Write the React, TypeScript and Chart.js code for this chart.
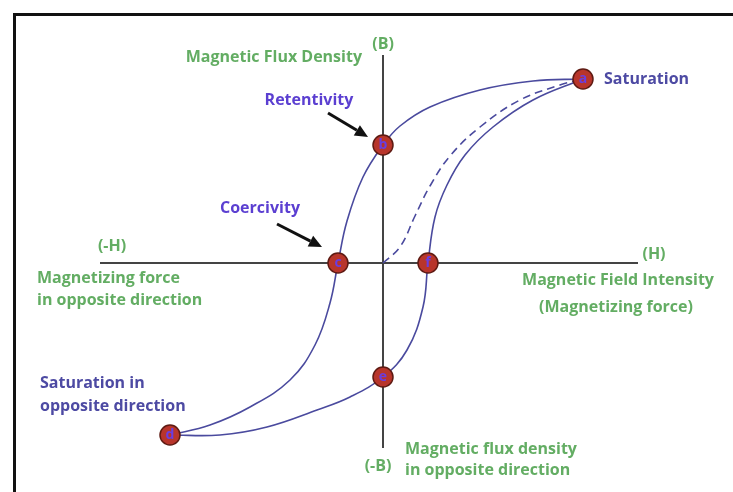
import React, { useEffect, useRef } from "react";
import { Chart, registerables } from "chart.js";

Chart.register(...registerables);

// Hysteresis loop, H (magnetizing force) vs B (flux density), arbitrary units
const pointLabels = ["a", "b", "c", "d", "e", "f"];
const pointH = [10.0, 0, -2.25, -10.65, 0, 2.25];
const pointB = [9.2, 5.9, 0, -8.6, -5.7, 0];

// descending branch a -> b -> c -> d
const upperH = [10.0, 7.5, 4.85, 2.35, 0.85, 0, -1.0, -1.8, -2.25, -2.65, -3.4, -4.65, -6.65, -8.65, -10.65];
const upperB = [9.2, 9.1, 8.65, 7.8, 6.85, 5.9, 4.3, 2.1, 0, -2.0, -4.1, -5.85, -7.2, -8.1, -8.6];

// ascending branch d -> e -> f -> a
const lowerH = [-10.65, -8.15, -5.8, -3.3, -1.65, 0, 1.2, 2.0, 2.25, 2.6, 3.2, 4.1, 5.5, 7.5, 10.0];
const lowerB = [-8.6, -8.6, -8.2, -7.35, -6.7, -5.7, -4.35, -2.2, 0, 2.3, 3.9, 5.4, 6.8, 8.15, 9.2];

// initial magnetization curve (dashed) 0 -> a
const initH = [0, 0.85, 1.6, 2.35, 3.35, 4.85, 6.85, 8.85, 10.0];
const initB = [0, 0.8, 2.35, 3.85, 5.35, 6.8, 8.15, 8.9, 9.2];

// axis extents
const hAxisH = [-14.15, 12.75];
const bAxisB = [10.4, -9.25];

const H_MIN = -19.15;
const H_MAX = 17.5;
const B_MIN = -11.45;
const B_MAX = 13.15;

const GREEN = "#63ad63";
const BLUE = "#5b3fd1";
const NAVY = "#4d4aa3";
const CURVE = "#4a4a9e";

type Ann = { text: string; h: number; b: number; align: CanvasTextAlign; color: string };
const annotations: Ann[] = [
  { text: "(B)", h: 0, b: 10.95, align: "center", color: GREEN },
  { text: "Magnetic Flux Density", h: -1.05, b: 10.3, align: "right", color: GREEN },
  { text: "Retentivity", h: -3.7, b: 8.15, align: "center", color: BLUE },
  { text: "Coercivity", h: -6.15, b: 2.75, align: "center", color: BLUE },
  { text: "(-H)", h: -13.55, b: 0.85, align: "center", color: GREEN },
  { text: "Magnetizing force", h: -17.3, b: -0.75, align: "left", color: GREEN },
  { text: "in opposite direction", h: -17.3, b: -1.85, align: "left", color: GREEN },
  { text: "(H)", h: 13.55, b: 0.45, align: "center", color: GREEN },
  { text: "Magnetic Field Intensity", h: 11.75, b: -0.85, align: "center", color: GREEN },
  { text: "(Magnetizing force)", h: 11.65, b: -2.2, align: "center", color: GREEN },
  { text: "Saturation", h: 11.05, b: 9.2, align: "left", color: NAVY },
  { text: "Saturation in", h: -17.15, b: -6.0, align: "left", color: NAVY },
  { text: "opposite direction", h: -17.15, b: -7.15, align: "left", color: NAVY },
  { text: "(-B)", h: -0.25, b: -10.15, align: "center", color: GREEN },
  { text: "Magnetic flux density", h: 1.1, b: -9.3, align: "left", color: GREEN },
  { text: "in opposite direction", h: 1.1, b: -10.35, align: "left", color: GREEN },
];

// arrows pointing at markers (index into pointLabels), pixel offsets from the marker
const arrows = [
  { target: 1, tail: [-55, -32], tip: [-15, -8] },
  { target: 2, tail: [-61, -39], tip: [-16, -16] },
];

const zip = (xs: number[], ys: number[]) => xs.map((x, i) => ({ x, y: ys[i] }));

const decorPlugin = {
  id: "decor",
  beforeDraw(chart: any) {
    const ctx = chart.ctx;
    ctx.save();
    ctx.fillStyle = "#ffffff";
    ctx.fillRect(0, 0, chart.width, chart.height);
    ctx.restore();
  },
  afterDatasetsDraw(chart: any) {
    const ctx = chart.ctx;
    const xs = chart.scales.x;
    const ys = chart.scales.y;
    ctx.save();
    // frame
    ctx.strokeStyle = "#111";
    ctx.lineWidth = 3;
    ctx.beginPath();
    ctx.moveTo(14.5, chart.height + 5);
    ctx.lineTo(14.5, 14.5);
    ctx.lineTo(chart.width + 5, 14.5);
    ctx.stroke();

    // letters on markers
    const meta = chart.getDatasetMeta(0);
    ctx.font = "bold 14px 'Open Sans', sans-serif";
    ctx.textAlign = "center";
    ctx.textBaseline = "middle";
    ctx.fillStyle = "#6a3ee0";
    meta.data.forEach((el: any, i: number) => {
      ctx.fillText(pointLabels[i], el.x, el.y);
    });

    // annotation text
    ctx.font = "bold 16px 'Open Sans', sans-serif";
    annotations.forEach((a) => {
      ctx.fillStyle = a.color;
      ctx.textAlign = a.align;
      ctx.fillText(a.text, xs.getPixelForValue(a.h), ys.getPixelForValue(a.b));
    });

    // arrows
    ctx.strokeStyle = "#111";
    ctx.fillStyle = "#111";
    ctx.lineWidth = 3;
    arrows.forEach((ar) => {
      const el = meta.data[ar.target];
      const x0 = el.x + ar.tail[0], y0 = el.y + ar.tail[1];
      const x1 = el.x + ar.tip[0], y1 = el.y + ar.tip[1];
      const ang = Math.atan2(y1 - y0, x1 - x0);
      const hl = 13;
      const bx = x1 - hl * Math.cos(ang), by = y1 - hl * Math.sin(ang);
      ctx.beginPath();
      ctx.moveTo(x0, y0);
      ctx.lineTo(bx, by);
      ctx.stroke();
      ctx.beginPath();
      ctx.moveTo(x1, y1);
      ctx.lineTo(bx + 6 * Math.cos(ang + Math.PI / 2), by + 6 * Math.sin(ang + Math.PI / 2));
      ctx.lineTo(bx + 6 * Math.cos(ang - Math.PI / 2), by + 6 * Math.sin(ang - Math.PI / 2));
      ctx.closePath();
      ctx.fill();
    });
    ctx.restore();
  },
};

export default function App() {
  const ref = useRef<HTMLCanvasElement>(null);
  useEffect(() => {
    document.body.style.margin = "0";
    const canvas = ref.current!;
    const curve = (label: string, xs: number[], ys: number[], dash: number[] = []) => ({
      label,
      data: zip(xs, ys),
      showLine: true,
      pointRadius: 0,
      borderColor: CURVE,
      borderWidth: 1.6,
      borderDash: dash,
      tension: 0.4,
      order: 1,
    });
    const chart = new Chart(canvas, {
      type: "scatter",
      data: {
        datasets: [
          {
            label: "points",
            data: zip(pointH, pointB),
            pointRadius: 10,
            pointHoverRadius: 10,
            backgroundColor: "#b8352b",
            borderColor: "#5e1a12",
            borderWidth: 1.5,
            showLine: false,
            order: 0,
          },
          curve("descending", upperH, upperB),
          curve("ascending", lowerH, lowerB),
          curve("initial", initH, initB, [8, 5]),
          {
            label: "H axis",
            data: zip(hAxisH, [0, 0]),
            showLine: true,
            pointRadius: 0,
            borderColor: "#444",
            borderWidth: 2,
            tension: 0,
            order: 2,
          },
          {
            label: "B axis",
            data: zip([0, 0], bAxisB),
            showLine: true,
            pointRadius: 0,
            borderColor: "#444",
            borderWidth: 2,
            tension: 0,
            order: 2,
          },
        ] as any,
      },
      options: {
        animation: false,
        responsive: false,
        maintainAspectRatio: false,
        layout: { padding: 0, autoPadding: false },
        plugins: { legend: { display: false }, tooltip: { enabled: false } },
        events: [],
        scales: {
          x: { type: "linear", min: H_MIN, max: H_MAX, display: false },
          y: { type: "linear", min: B_MIN, max: B_MAX, display: false },
        },
      },
      plugins: [decorPlugin],
    });
    return () => chart.destroy();
  }, []);
  return <canvas ref={ref} width={733} height={492} style={{ display: "block" }} />;
}
